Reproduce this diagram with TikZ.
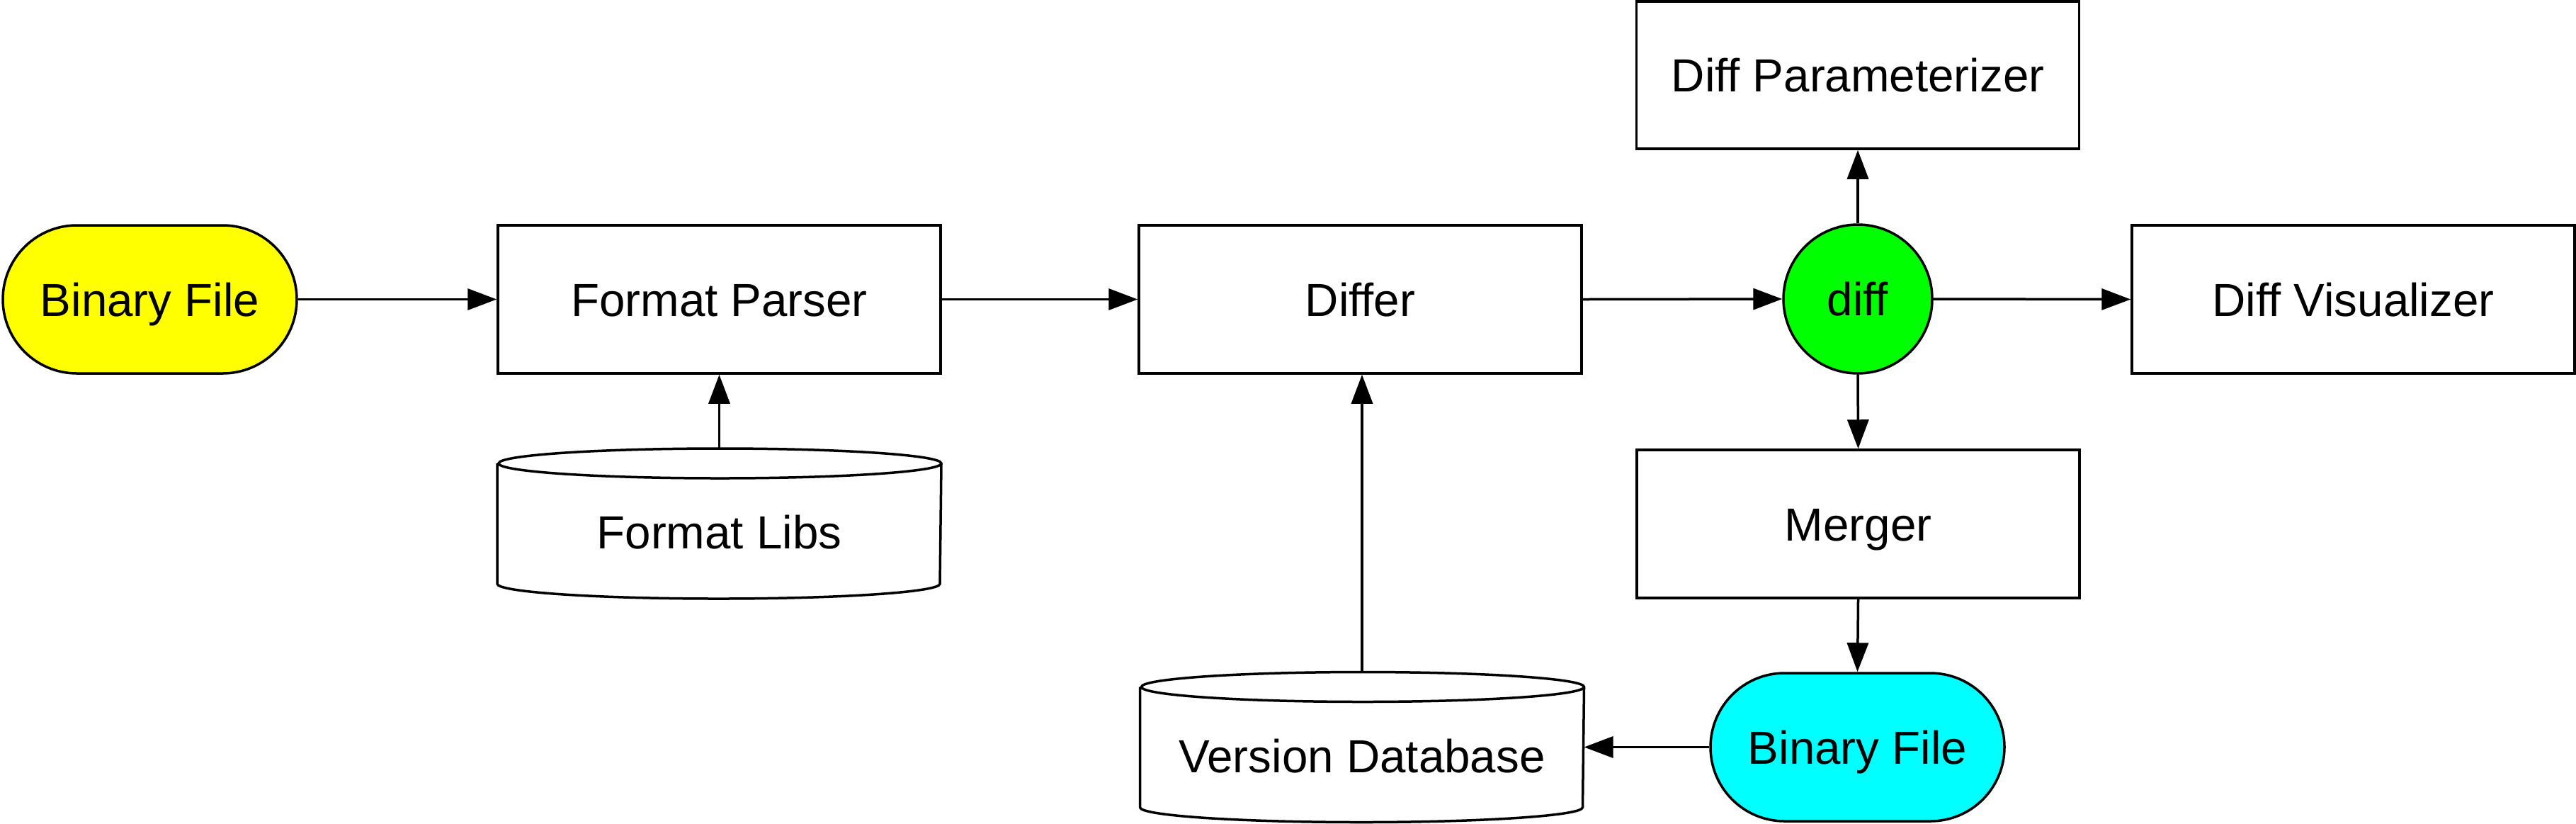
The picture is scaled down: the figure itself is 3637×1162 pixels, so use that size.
\documentclass[tikz,border=0pt]{standalone}
\usepackage{fontspec}
\setmainfont{Liberation Sans}
\usetikzlibrary{arrows.meta}
\definecolor{yel}{HTML}{FFFF00}
\definecolor{grn}{HTML}{00FF00}
\definecolor{cyn}{HTML}{00FFFF}
\begin{document}
\begin{tikzpicture}[x=0.2pt,y=-0.2pt,
  every node/.style={font=\fontsize{13.1}{15.7}\selectfont, inner sep=0pt, text height=9.4pt, text depth=0pt},
  box/.style={draw, line width=0.7pt, minimum width=125pt, minimum height=41.8pt},
  term/.style={draw, line width=0.7pt, minimum width=83pt, minimum height=41.8pt, rounded corners=20.9pt},
  cyl/.style={minimum width=125pt, minimum height=42pt, text height=14.2pt},
  cylline/.style={line width=0.7pt},
  conn/.style={line width=0.7pt, -{Triangle[length=8.2pt,width=6pt]}}]
\useasboundingbox[fill=white] (0,0) rectangle (3637,1162);

\node[term, fill=yel] (bf1) at (211.5,422.5) {Binary File};
\node[box] (fp) at (1015.5,422.5) {Format Parser};
\node[cyl] (fl) at (1015.5,739) {Format Libs};
\node[box] (differ) at (1920.5,422.5) {Differ};
\node[draw, circle, fill=grn, line width=0.7pt, minimum size=42pt] (dc) at (2623,422) {diff};
\node[box, minimum height=41.6pt] (param) at (2623,106) {Diff Parameterizer};
\node[box] (dv) at (3322.5,422.5) {Diff Visualizer};
\node[box] (merger) at (2623.5,739.5) {Merger};
\node[term, fill=cyn] (bf2) at (2622.5,1054.5) {Binary File};
\node[cyl] (vd) at (1923,1054.5) {Version Database};

% cylinders
\foreach \c in {fl,vd}{
  \draw[cylline] ([yshift=-4.2pt]\c.north west) -- ([yshift=4.2pt]\c.south west)
    arc[start angle=180, end angle=360, x radius=62.5pt, y radius=4.2pt]
    -- ([yshift=-4.2pt]\c.north east)
    arc[start angle=0, end angle=180, x radius=62.5pt, y radius=4.2pt]
    arc[start angle=180, end angle=360, x radius=62.5pt, y radius=4.2pt];
}

\draw[conn] (bf1.east) -- (fp.west);
\draw[conn] (fl.north) -- (fp.south);
\draw[conn] (fp.east) -- (differ.west);
\draw[conn] (vd.north) -- (vd.north |- differ.south);
\draw[conn] (differ.east) -- (dc.west);
\draw[conn] (dc.north) -- (param.south);
\draw[conn] (dc.east) -- (dv.west);
\draw[conn] (dc.south) -- (merger.north);
\draw[conn] (merger.south) -- (bf2.north);
\draw[conn] (bf2.west) -- (vd.east);
\end{tikzpicture}
\end{document}
